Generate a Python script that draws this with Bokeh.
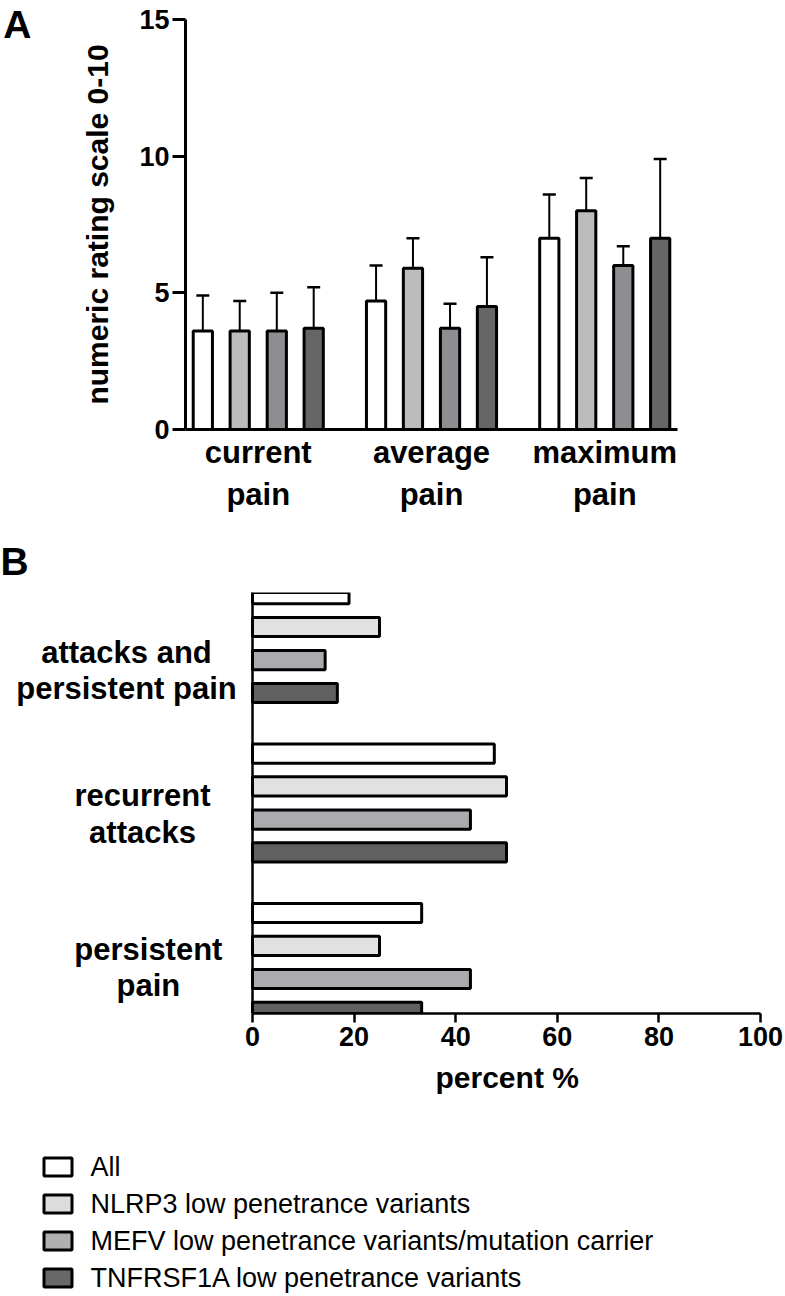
from bokeh.plotting import figure
from bokeh.models import (FactorRange, ColumnDataSource, Whisker, TeeHead,
                          Range1d, FixedTicker, LinearAxis, Span, Title)
from bokeh.core.properties import value
from bokeh.transform import dodge
from bokeh.layouts import column
from bokeh.embed import file_html
from bokeh.resources import INLINE

# ---------------- data ----------------
series = ["All", "NLRP3 low penetrance variants",
          "MEFV low penetrance variants/mutation carrier",
          "TNFRSF1A low penetrance variants"]

pain_types = ["current\npain", "average\npain", "maximum\npain"]
nrs_all = [3.6, 4.7, 7.0]
nrs_nlrp3 = [3.6, 5.9, 8.0]
nrs_mefv = [3.6, 3.7, 6.0]
nrs_tnfrsf1a = [3.7, 4.5, 7.0]
sd_all = [1.3, 1.3, 1.6]
sd_nlrp3 = [1.1, 1.1, 1.2]
sd_mefv = [1.4, 0.9, 0.7]
sd_tnfrsf1a = [1.5, 1.8, 2.9]

pain_courses = ["attacks and\npersistent pain", "recurrent\nattacks", "persistent\npain"]
pct_all = [19.0, 47.6, 33.3]
pct_nlrp3 = [25.0, 50.0, 25.0]
pct_mefv = [14.3, 42.9, 42.9]
pct_tnfrsf1a = [16.7, 50.0, 33.3]

nrs_ticks = [0, 5, 10, 15]
pct_ticks = [0, 20, 40, 60, 80, 100]

# ---------------- style / layout ----------------
FONT = "Liberation Sans"
W = 785
colors_A = ["#ffffff", "#bcbcbc", "#8e8e92", "#666666"]
colors_B = ["#ffffff", "#e1e1e1", "#ababaf", "#5f605f"]
colors_L = ["#ffffff", "#dcdcdc", "#b0b0b0", "#686868"]
# category-label placement in panel B (x in percent units left of the axis, y shift in px)
label_x_B = [-24.8, -21.65, -20.5]
label_dy_B = [27, 11, 5]


def style_axis(ax, label_size, title_size):
    ax.axis_line_color = "black"
    ax.major_tick_line_color = "black"
    ax.minor_tick_line_color = None
    ax.major_tick_in = 0
    ax.major_label_text_font = FONT
    ax.major_label_text_font_style = "bold"
    ax.major_label_text_font_size = label_size
    ax.major_label_text_color = "black"
    ax.axis_label_text_font = FONT
    ax.axis_label_text_font_style = "bold"
    ax.axis_label_text_font_size = title_size
    ax.axis_label_text_color = "black"


# ---------------- panel A ----------------
pA = figure(width=W, height=530, output_backend="svg", toolbar_location=None,
            x_range=FactorRange(*pain_types, range_padding=-0.08,
                                range_padding_units="absolute"),
            y_range=Range1d(0, 15),
            min_border_left=178, min_border_right=108,
            min_border_top=19, min_border_bottom=101)
pA.frame_align = False
pA.grid.visible = False
pA.outline_line_color = None

offsets_A = [-0.32, -0.107, 0.107, 0.32]
vals_A = [nrs_all, nrs_nlrp3, nrs_mefv, nrs_tnfrsf1a]
sds_A = [sd_all, sd_nlrp3, sd_mefv, sd_tnfrsf1a]
for vals, sds, off, col in zip(vals_A, sds_A, offsets_A, colors_A):
    src = ColumnDataSource(dict(cat=pain_types, val=vals,
                                upper=[v + s for v, s in zip(vals, sds)]))
    pA.add_layout(Whisker(source=src, base=dodge("cat", off, range=pA.x_range),
                          lower="val", upper="upper", line_color="black",
                          line_width=2, lower_head=None,
                          upper_head=TeeHead(size=13, line_width=2.5,
                                             line_color="black")))
    pA.vbar(x=dodge("cat", off, range=pA.x_range), top="val", bottom=0,
            width=0.111, source=src, fill_color=col, line_color="black",
            line_width=3)

style_axis(pA.yaxis[0], "27px", "30px")
style_axis(pA.xaxis[0], "31px", "30px")
pA.yaxis.ticker = FixedTicker(ticks=nrs_ticks)
pA.yaxis.major_tick_out = 13
pA.yaxis.major_tick_line_width = 3
pA.yaxis.axis_line_width = 3
pA.yaxis.major_label_standoff = 3
pA.yaxis.axis_label = "numeric rating scale 0-10"
pA.yaxis.axis_label_standoff = 22
pA.xaxis.axis_line_width = 3
pA.xaxis.major_tick_line_color = None
pA.xaxis.major_tick_out = 0
pA.xaxis.major_label_standoff = 5

# panel letter "A" (label of an extra, otherwise invisible, left axis at the top)
pA.extra_y_ranges = {"panel": Range1d(0, 1)}
letterA = LinearAxis(y_range_name="panel", ticker=FixedTicker(ticks=[1]),
                     major_label_overrides={1: "A"})
style_axis(letterA, "39px", "10px")
letterA.axis_line_color = None
letterA.major_tick_line_color = None
letterA.major_tick_out = 0
letterA.major_label_standoff = 47
pA.add_layout(letterA, "left")

# ---------------- panel B ----------------
courses_bottom_up = pain_courses[::-1]
pB = figure(width=W, height=578, output_backend="svg", toolbar_location=None,
            y_range=FactorRange(*courses_bottom_up, range_padding=-0.18,
                                range_padding_units="absolute"),
            x_range=Range1d(-252 / 5.08, 100),
            y_axis_location=None,
            min_border_left=0, min_border_right=25,
            min_border_top=62, min_border_bottom=95)
pB.frame_align = False
pB.grid.visible = False
pB.outline_line_color = None

offsets_B = [0.31, 0.104, -0.104, -0.31]
vals_B = [pct_all, pct_nlrp3, pct_mefv, pct_tnfrsf1a]
for vals, off, col in zip(vals_B, offsets_B, colors_B):
    src = ColumnDataSource(dict(cat=pain_courses, val=vals))
    pB.hbar(y=dodge("cat", off, range=pB.y_range), right="val", left=0,
            height=0.12, source=src, fill_color=col, line_color="black",
            line_width=3)

# category axis line at 0 %
pB.add_layout(Span(location=0, dimension="height", line_color="black",
                   line_width=2.5))
# category labels, centred lines, left of the axis
csrc = ColumnDataSource(dict(cat=pain_courses, lx=label_x_B, dy=label_dy_B))
pB.text(x="lx", y="cat", text="cat", y_offset="dy", source=csrc,
        text_align="center", text_baseline="middle", text_line_height=1.045,
        text_font=value(FONT), text_font_style="bold",
        text_font_size=value("31px"), text_color="black")

style_axis(pB.xaxis[0], "27px", "30px")
pB.xaxis.bounds = (0, 100)
pB.xaxis.ticker = FixedTicker(ticks=pct_ticks)
pB.xaxis.major_tick_out = 9
pB.xaxis.major_tick_line_width = 2.5
pB.xaxis.axis_line_width = 2.5
pB.xaxis.major_label_standoff = 4

# x-axis title, centred under the 0-100 % axis
pB.add_layout(Title(text="percent %", align="left", offset=435,
                    vertical_align="top", standoff=24, text_font=FONT,
                    text_font_style="bold", text_font_size="30px",
                    text_color="black"), "below")

pB.title.text = "B"
pB.title.align = "left"
pB.title.offset = 0
pB.title.vertical_align = "top"
pB.title.standoff = 16
pB.title.text_font = FONT
pB.title.text_font_style = "bold"
pB.title.text_font_size = "39px"
pB.title.text_color = "black"

# ---------------- legend ----------------
pL = figure(width=W, height=188, output_backend="svg", toolbar_location=None,
            x_range=Range1d(0, W), y_range=FactorRange(*series[::-1]),
            min_border_left=0, min_border_right=0, min_border_top=40,
            min_border_bottom=0, x_axis_location=None, y_axis_location=None)
pL.frame_align = False
pL.grid.visible = False
pL.outline_line_color = None
lsrc = ColumnDataSource(dict(name=series, color=colors_L))
pL.rect(x=57.5, y="name", width=28, height=18, width_units="screen",
        height_units="screen", fill_color="color", line_color="black",
        line_width=3, source=lsrc)
pL.text(x=90, y="name", text="name", source=lsrc, text_baseline="middle",
        text_align="left", text_font=value(FONT), text_font_size=value("27px"),
        text_color="black")

layout = column(pA, pB, pL, spacing=0)
open("out.html", "w").write(file_html(layout, INLINE))
